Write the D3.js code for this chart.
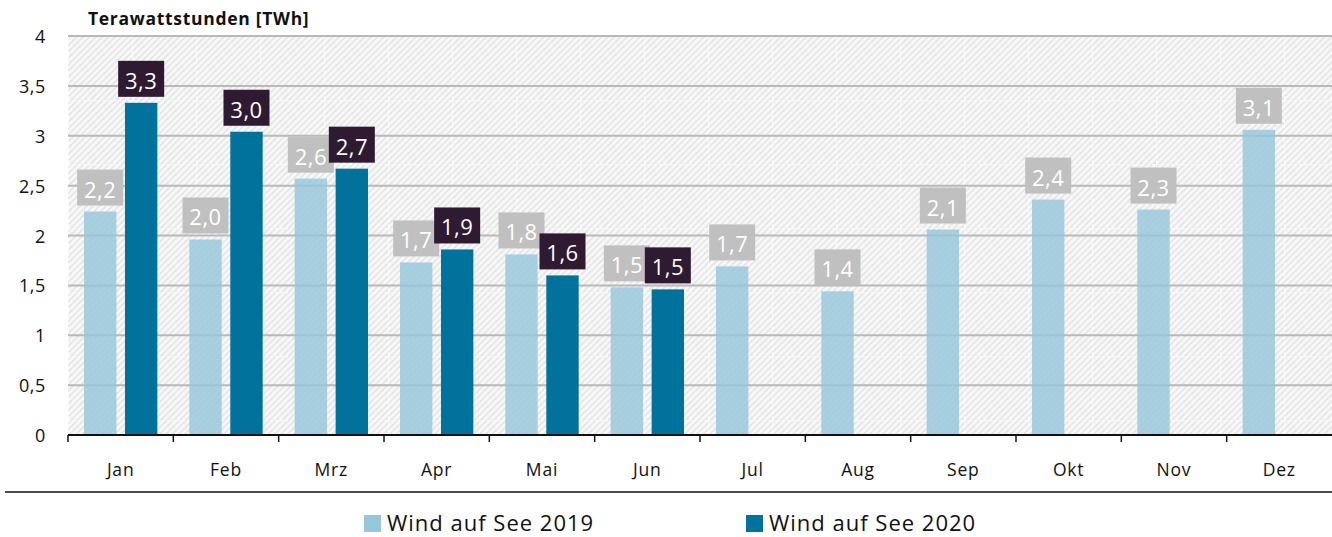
<!DOCTYPE html>
<html>
<head>
<meta charset="utf-8">
<script src="https://cdn.jsdelivr.net/npm/d3@7"></script>
<style>
  html, body { margin: 0; padding: 0; background: #fff; }
  svg { display: block; font-family: "Open Sans", "Noto Sans", sans-serif; }
</style>
</head>
<body>
<svg id="chart" width="1332" height="537"></svg>
<script>
// ---- data ----
const months = ["Jan", "Feb", "Mrz", "Apr", "Mai", "Jun", "Jul", "Aug", "Sep", "Okt", "Nov", "Dez"];
const seriesNames = ["Wind auf See 2019", "Wind auf See 2020"];
const wind2019 = [2.24, 1.96, 2.57, 1.73, 1.81, 1.48, 1.69, 1.44, 2.06, 2.36, 2.26, 3.06];
const wind2020 = [3.33, 3.04, 2.67, 1.86, 1.60, 1.46, null, null, null, null, null, null];
const yTicks = [0, 0.5, 1, 1.5, 2, 2.5, 3, 3.5, 4];
const yTitle = "Terawattstunden [TWh]";

// ---- setup ----
const W = 1332, H = 537;
const m = { left: 68, right: 0, top: 36, bottom: 102 };
const svg = d3.select("#chart");
const loc = d3.formatLocale({ decimal: ",", thousands: ".", grouping: [3], currency: ["", "€"] });
const fmtLabel = loc.format(".1f");
const fmtTick = v => loc.format("")(v);

const x = d3.scaleBand().domain(months).range([m.left, W - m.right]).paddingInner(0).paddingOuter(0);
const xs = d3.scaleBand().domain(seriesNames).range([0, x.bandwidth()]).paddingInner(0.21).paddingOuter(0.39);
const y = d3.scaleLinear().domain([0, 4]).range([H - m.bottom, m.top]);

const colors = { [seriesNames[0]]: "#96c7da", [seriesNames[1]]: "#00729b" };
const labelBg = { [seriesNames[0]]: "#c0c0c0", [seriesNames[1]]: "#2e1a31" };

// ---- background pattern ----
const defs = svg.append("defs");
const tile = 64;
const pat = defs.append("pattern").attr("id", "hatch")
  .attr("patternUnits", "userSpaceOnUse")
  .attr("x", m.left).attr("y", m.top)
  .attr("width", tile).attr("height", tile);
pat.append("rect").attr("width", tile).attr("height", tile).attr("fill", "#e7e7e7");
const step = tile / 10;
d3.range(-11, 12).forEach(k => {
  pat.append("line")
    .attr("x1", k * step).attr("y1", tile)
    .attr("x2", k * step + tile).attr("y2", 0)
    .attr("stroke", "#f8f8f8").attr("stroke-width", 2.6);
});
pat.append("line").attr("x1", 0).attr("y1", 0.5).attr("x2", tile).attr("y2", 0.5)
  .attr("stroke", "#ffffff").attr("stroke-width", 1).attr("stroke-dasharray", "3,2").attr("opacity", 0.8);
pat.append("line").attr("x1", 0.5).attr("y1", 0).attr("x2", 0.5).attr("y2", tile)
  .attr("stroke", "#ffffff").attr("stroke-width", 1).attr("stroke-dasharray", "3,2").attr("opacity", 0.8);

svg.append("rect")
  .attr("x", m.left).attr("y", y(4))
  .attr("width", W - m.right - m.left).attr("height", y(0) - y(4))
  .attr("fill", "url(#hatch)");

// ---- gridlines ----
svg.append("g").selectAll("line").data(yTicks.filter(d => d > 0)).join("line")
  .attr("x1", m.left).attr("x2", W - m.right)
  .attr("y1", d => y(d)).attr("y2", d => y(d))
  .attr("stroke", "#b9b9b9").attr("stroke-width", 2);

// ---- y tick labels ----
svg.append("g").selectAll("text").data(yTicks).join("text")
  .attr("x", 46).attr("y", d => y(d))
  .attr("text-anchor", "end").attr("dominant-baseline", "central")
  .attr("font-size", 18).attr("fill", "#111").attr("letter-spacing", 0.6)
  .text(d => fmtTick(d));

// title
svg.append("text").attr("x", 88).attr("y", 25)
  .attr("font-size", 17.5).attr("font-weight", "bold").attr("fill", "#111")
  .attr("letter-spacing", 0.7)
  .text(yTitle);

// ---- bars ----
const rows = months.map((mo, i) => ({ month: mo, values: [
  { key: seriesNames[0], v: wind2019[i] },
  { key: seriesNames[1], v: wind2020[i] }
].filter(d => d.v != null) }));

const gBars = svg.append("g");
rows.forEach(r => {
  r.values.forEach(d => {
    gBars.append("rect")
      .attr("x", x(r.month) + xs(d.key))
      .attr("y", y(d.v))
      .attr("width", xs.bandwidth())
      .attr("height", y(0) - y(d.v))
      .attr("fill", colors[d.key])
      .attr("fill-opacity", d.key === seriesNames[0] ? 0.82 : 1);
  });
});

// ---- labels ----
const boxW = 46, boxH = 36, gap = 6;
seriesNames.forEach(s => {
  const g = svg.append("g");
  rows.forEach(r => {
    r.values.filter(d => d.key === s).forEach(d => {
      const cx = x(r.month) + xs(d.key) + xs.bandwidth() / 2;
      const top = y(d.v) - gap - boxH;
      g.append("rect").attr("x", cx - boxW / 2).attr("y", top)
        .attr("width", boxW).attr("height", boxH).attr("fill", labelBg[s]);
      g.append("text").attr("x", cx).attr("y", top + boxH / 2 + 1)
        .attr("text-anchor", "middle").attr("dominant-baseline", "central")
        .attr("font-size", 22).attr("fill", "#ffffff").attr("letter-spacing", 0.5)
        .text(fmtLabel(d.v));
    });
  });
});

// ---- x axis ----
const gx = svg.append("g");
gx.append("line").attr("x1", m.left).attr("x2", W - m.right)
  .attr("y1", y(0)).attr("y2", y(0)).attr("stroke", "#111").attr("stroke-width", 2);
gx.selectAll("line.tick").data(months).join("line").attr("class", "tick")
  .attr("x1", d => x(d)).attr("x2", d => x(d))
  .attr("y1", y(0)).attr("y2", y(0) + 7).attr("stroke", "#111").attr("stroke-width", 1.5);
gx.selectAll("text").data(months).join("text")
  .attr("x", d => x(d) + x.bandwidth() / 2).attr("y", y(0) + 34)
  .attr("text-anchor", "middle").attr("dominant-baseline", "central")
  .attr("font-size", 17.5).attr("fill", "#111").attr("letter-spacing", 0.8)
  .text(d => d);

// separator
svg.append("line").attr("x1", 5).attr("x2", W).attr("y1", 492).attr("y2", 492)
  .attr("stroke", "#111").attr("stroke-width", 1.5);

// ---- legend ----
const legX = [364, 746];
const lg = svg.append("g");
seriesNames.forEach((s, i) => {
  lg.append("rect").attr("x", legX[i]).attr("y", 515).attr("width", 17).attr("height", 17)
    .attr("fill", colors[s]);
  lg.append("text").attr("x", legX[i] + 23).attr("y", 522)
    .attr("dominant-baseline", "central").attr("font-size", 22).attr("fill", "#111")
    .attr("letter-spacing", 1)
    .text(s);
});
</script>
</body>
</html>
